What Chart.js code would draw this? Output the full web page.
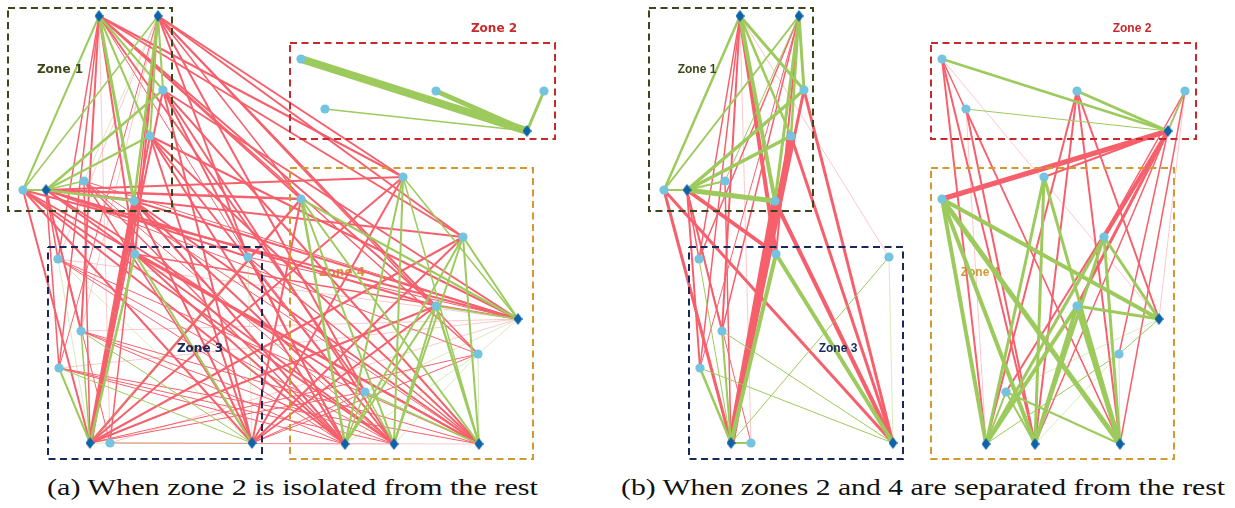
<!DOCTYPE html>
<html><head><meta charset="utf-8">
<script src="https://cdn.jsdelivr.net/npm/chart.js@4.4.1/dist/chart.umd.min.js"></script>
<style>
html,body{margin:0;padding:0;background:#fff;width:1235px;height:508px;overflow:hidden;}
.panel{position:absolute;top:0;width:600px;height:470px;}
.cap{position:absolute;top:474px;font-family:"Liberation Serif","DejaVu Serif",serif;font-size:24px;color:#111;white-space:nowrap;transform-origin:0 0;}
</style></head><body>
<div class="panel" style="left:0"><canvas id="ca"></canvas></div>
<div class="panel" style="left:641px"><canvas id="cb"></canvas></div>
<div class="cap" id="capA" style="left:47px">(a) When zone 2 is isolated from the rest</div>
<div class="cap" id="capB" style="left:621px">(b) When zones 2 and 4 are separated from the rest</div>
<script>
// ---- nodes (panel-local coordinates) ----
const nodeX = [99,158,163,150,84,23,46,134, 301,436,544,325,527, 58,135,248,81,59,90,110,252, 403,301,463,436,518,478,365,345,394,479];
const nodeY = [16,16,90,136,181,190,190,201, 59,91,91,109,131, 259,254,257,331,368,443,443,443, 177,199,237,306,319,354,392,444,444,444];
const nodeKind = ['D','D','C','C','C','C','D','C', 'C','C','C','C','D', 'C','C','C','C','C','D','C','D', 'C','C','C','C','D','C','C','D','D','D'];

// ---- zones ----
const zoneNames = ['Zone 1','Zone 2','Zone 3','Zone 4'];
const zoneX0 = [8,290,48,290];
const zoneX1 = [172,555,262,533];
const zoneY0 = [8,43,247,168];
const zoneY1 = [211,139,459,459];
const zoneLabelX = [60,494,200,342];
const zoneLabelY = [70,29,349,273];

// ---- edges: [from, to, flow width, g=intra-zone / r=inter-zone] ----
const edgesA = [
 [12,8,8,'g'],[12,9,5,'g'],[12,10,3,'g'],[12,11,1.5,'g'],
 [0,5,2,'g'],[0,2,2,'g'],[0,3,2,'g'],[0,7,3,'g'],
 [1,2,2,'g'],[1,3,2,'g'],[1,7,2.5,'g'],[1,5,1.5,'g'],[1,4,0.6,'g'],
 [6,2,2.5,'g'],[6,3,2,'g'],[6,4,1.5,'g'],[6,5,2,'g'],[6,7,2.5,'g'],
 [18,13,0.8,'g'],[18,14,2.5,'g'],[18,16,1.5,'g'],[18,17,2,'g'],[18,19,0.6,'g'],[18,15,0.6,'g'],
 [20,14,2,'g'],[20,15,0.8,'g'],[20,16,1,'g'],[20,17,1,'g'],[20,19,0.6,'g'],[20,13,0.6,'g'],
 [28,22,2.5,'g'],[29,22,2,'g'],[30,22,2,'g'],[25,22,2,'g'],
 [28,21,2,'g'],[29,21,2,'g'],[30,21,1.5,'g'],[25,21,1.5,'g'],
 [28,23,2,'g'],[29,23,2,'g'],[30,23,2,'g'],[25,23,2,'g'],
 [28,24,2,'g'],[29,24,2,'g'],[30,24,2.5,'g'],[25,24,1.5,'g'],
 [28,26,0.8,'g'],[29,26,0.6,'g'],[30,26,0.6,'g'],[25,26,0.8,'g'],
 [28,27,1.5,'g'],[29,27,1.5,'g'],[30,27,1.5,'g'],[25,27,0.6,'g'],
 [0,13,1.5,'r'],[0,14,2,'r'],[0,15,1,'r'],[0,16,2,'r'],[0,17,1.5,'r'],[0,19,0.6,'r'],
 [1,13,0.6,'r'],[1,14,2,'r'],[1,15,2,'r'],[1,16,0.6,'r'],[1,17,1,'r'],[1,19,1.5,'r'],
 [6,13,1.5,'r'],[6,14,2,'r'],[6,15,2,'r'],[6,16,2,'r'],[6,17,1.5,'r'],[6,19,1,'r'],
 [0,21,2,'r'],[0,22,2,'r'],[0,23,2,'r'],[0,24,2,'r'],[0,26,1.5,'r'],[0,27,2,'r'],
 [1,21,2,'r'],[1,22,1.5,'r'],[1,23,2,'r'],[1,24,2,'r'],[1,26,1.5,'r'],[1,27,2,'r'],
 [6,21,2,'r'],[6,22,2.5,'r'],[6,23,2,'r'],[6,24,2,'r'],[6,26,1,'r'],[6,27,2,'r'],
 [18,7,5,'r'],[18,3,2,'r'],[18,2,2,'r'],[18,4,1.5,'r'],[18,5,2,'r'],
 [20,7,2,'r'],[20,3,2,'r'],[20,2,2,'r'],[20,4,1.5,'r'],[20,5,2,'r'],
 [18,21,2,'r'],[18,22,2.5,'r'],[18,23,2,'r'],[18,24,2,'r'],[18,26,1,'r'],[18,27,1,'r'],
 [20,21,2,'r'],[20,22,2,'r'],[20,23,2,'r'],[20,24,2,'r'],[20,26,1,'r'],[20,27,1,'r'],
 [28,2,2,'r'],[28,3,2,'r'],[28,4,1.5,'r'],[28,5,2,'r'],[28,7,2,'r'],
 [29,2,2,'r'],[29,3,2,'r'],[29,4,1,'r'],[29,5,2,'r'],[29,7,2,'r'],
 [30,2,2,'r'],[30,3,2,'r'],[30,4,1,'r'],[30,5,2,'r'],[30,7,2,'r'],
 [25,2,2,'r'],[25,3,2,'r'],[25,4,1,'r'],[25,5,2,'r'],[25,7,2,'r'],
 [28,13,1,'r'],[28,14,2,'r'],[28,15,1.5,'r'],[28,16,1,'r'],[28,17,1,'r'],[28,19,0.6,'r'],
 [29,13,1,'r'],[29,14,2,'r'],[29,15,1,'r'],[29,16,1,'r'],[29,17,1,'r'],[29,19,0.6,'r'],
 [30,13,1,'r'],[30,14,2,'r'],[30,15,1.5,'r'],[30,16,1,'r'],[30,17,1,'r'],[30,19,0.6,'r'],
 [25,13,0.6,'r'],[25,14,1.5,'r'],[25,15,1,'r'],[25,16,0.6,'r'],[25,17,0.6,'r'],[25,19,0.6,'r']
];
const edgesB = [
 [12,8,2.5,'g'],[12,9,3,'g'],[12,10,1.5,'g'],[12,11,1,'g'],
 [0,5,2.5,'g'],[0,2,3,'g'],[0,3,2.5,'g'],[0,7,4,'g'],
 [1,2,3,'g'],[1,3,2.5,'g'],[1,7,3,'g'],[1,5,2,'g'],[1,4,1,'g'],
 [6,2,3.5,'g'],[6,3,3.5,'g'],[6,4,2,'g'],[6,5,2,'g'],[6,7,5,'g'],
 [18,13,1,'g'],[18,14,4,'g'],[18,16,2,'g'],[18,17,2.5,'g'],[18,19,2,'g'],[18,15,1,'g'],
 [20,14,4,'g'],[20,16,1,'g'],[20,17,1,'g'],[20,15,0.6,'g'],
 [28,22,4,'g'],[29,22,4,'g'],[30,22,5,'g'],[25,22,4,'g'],
 [28,21,3,'g'],[29,21,3,'g'],[30,21,3,'g'],
 [28,23,3,'g'],[29,23,3,'g'],[30,23,3,'g'],[25,23,3,'g'],
 [28,24,4,'g'],[29,24,4,'g'],[30,24,5,'g'],[25,24,3,'g'],
 [28,26,1,'g'],[29,26,0.6,'g'],[30,26,0.6,'g'],[25,26,1,'g'],
 [28,27,2,'g'],[29,27,2,'g'],[30,27,2,'g'],[25,27,0.6,'g'],
 [0,13,1.5,'r'],[0,14,4,'r'],[0,15,0.6,'r'],[0,16,2,'r'],[0,17,1.5,'r'],[0,19,0.6,'r'],
 [1,13,1.5,'r'],[1,14,2,'r'],[1,16,1.5,'r'],[1,17,1,'r'],
 [6,13,1.5,'r'],[6,14,4,'r'],[6,16,2,'r'],[6,17,2,'r'],[6,19,1,'r'],
 [18,2,3,'r'],[18,3,5,'r'],[18,7,7,'r'],[18,4,1.5,'r'],[18,5,3,'r'],
 [20,2,3,'r'],[20,3,3,'r'],[20,7,4,'r'],[20,5,3,'r'],
 [12,21,2,'r'],[12,22,5,'r'],[12,23,4,'r'],[12,24,3,'r'],[12,26,1.5,'r'],[12,27,2,'r'],
 [8,28,2,'r'],[8,29,2,'r'],[8,30,1.5,'r'],[8,25,0.6,'r'],
 [11,28,0.6,'r'],[11,29,2,'r'],[11,30,1,'r'],
 [9,28,2,'r'],[9,29,2,'r'],[9,30,2,'r'],[9,25,2,'r'],
 [10,28,1.5,'r'],[10,29,1.5,'r'],[10,30,1.5,'r'],[10,25,0.6,'r']
];

// ---- styles ----
const zoneColors = ['#3b4719','#c62a2a','#16295a','#d1992e'];
const RED = '#f6606c', GREEN = '#9dca5c';
const RED_PALE = 'rgba(246,96,108,0.35)', GREEN_PALE = 'rgba(157,202,92,0.4)';

function diamondImage(){
  const c = document.createElement('canvas');
  c.width = 9; c.height = 12;
  const g = c.getContext('2d');
  g.fillStyle = '#0d62a8';
  g.beginPath();
  g.moveTo(4.5,0); g.lineTo(9,6); g.lineTo(4.5,12); g.lineTo(0,6); g.closePath();
  g.fill();
  return c;
}
const diamondImg = diamondImage();

function build(id, edges, labelFont, labelDx){
  const datasets = [];
  const circles = [], diamonds = [];
  nodeX.forEach((x,i)=>{ (nodeKind[i]==='D'?diamonds:circles).push({x:x,y:nodeY[i]}); });
  datasets.push({type:'scatter', data:circles, pointStyle:'circle', pointRadius:4.6,
    backgroundColor:'#74c3df', borderWidth:0, order:0});
  datasets.push({type:'scatter', data:diamonds, pointStyle:diamondImg, pointRadius:6, order:0});
  zoneNames.forEach((n,z)=>{
    datasets.push({type:'line', data:[{x:zoneX0[z],y:zoneY0[z]},{x:zoneX1[z],y:zoneY0[z]},{x:zoneX1[z],y:zoneY1[z]},{x:zoneX0[z],y:zoneY1[z]},{x:zoneX0[z],y:zoneY0[z]}],
      borderColor:zoneColors[z], borderWidth:2, borderDash:[7,4.5], pointRadius:0, fill:false, tension:0, order:1});
  });
  edges.forEach(e=>{
    const a=e[0], b=e[1], w=e[2], t=e[3];
    const pale = w < 0.9;
    const col = t==='g' ? (pale?GREEN_PALE:GREEN) : (pale?RED_PALE:RED);
    datasets.push({type:'line', data:[{x:nodeX[a],y:nodeY[a]},{x:nodeX[b],y:nodeY[b]}],
      borderColor:col, borderWidth: pale?1:w, pointRadius:0, fill:false, tension:0,
      order: t==='g'?2:3});
  });
  function drawLabels(chart, which){
    const c = chart.ctx, xs = chart.scales.x, ys = chart.scales.y;
    c.save();
    c.font = labelFont;
    c.textAlign='center'; c.textBaseline='middle';
    zoneNames.forEach((n,z)=>{
      if (!which(z)) return;
      c.fillStyle = zoneColors[z];
      c.fillText(n, xs.getPixelForValue(zoneLabelX[z]+labelDx[z]), ys.getPixelForValue(zoneLabelY[z]));
    });
    c.restore();
  }
  const labelPlugin = {
    id:'zlabels',
    beforeDatasetsDraw(chart){ drawLabels(chart, z=>z===3); },
    afterDatasetsDraw(chart){ drawLabels(chart, z=>z!==3); }
  };
  new Chart(document.getElementById(id), {
    type:'scatter',
    data:{datasets},
    options:{animation:false, responsive:true, maintainAspectRatio:false, events:[],
      layout:{padding:0, autoPadding:false},
      plugins:{legend:{display:false}, tooltip:{enabled:false}},
      scales:{x:{type:'linear',min:0,max:600,display:false},
              y:{type:'linear',min:0,max:470,reverse:true,display:false}}},
    plugins:[labelPlugin]
  });
}
build('ca', edgesA, 'bold 12px "DejaVu Sans"', [0,0,0,0]);
build('cb', edgesB, 'bold 12px "Liberation Sans"', [-4,-3,-3,-3]);

function fit(id, target){
  const el = document.getElementById(id);
  const w = el.getBoundingClientRect().width;
  el.style.transform = 'scaleX(' + (target / w) + ')';
}
fit('capA', 491);
fit('capB', 604);
</script>
</body></html>
